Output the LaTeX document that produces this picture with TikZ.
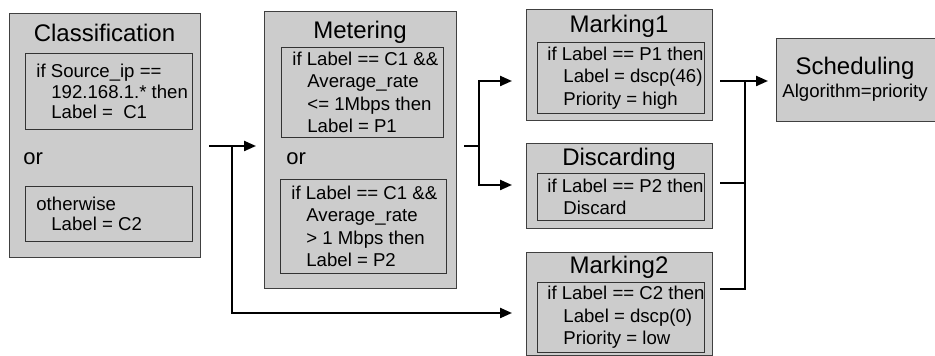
\documentclass[tikz,border=0pt]{standalone}
\usepackage{fontspec}
\setmainfont{Liberation Sans}
\usetikzlibrary{arrows.meta}
\definecolor{boxgray}{RGB}{204,204,204}
\newcommand{\bodyfont}{\fontsize{9.3}{11.25}\selectfont}
\newcommand{\titlefont}{\fontsize{12}{14}\selectfont}
\newcommand{\ind}{\hspace*{7.5pt}}

\begin{document}
\begin{tikzpicture}[x=0.5pt, y=-0.5pt,
    stage/.style={draw=black!75, fill=boxgray, line width=0.5pt, anchor=north west, inner sep=0pt},
    rulebox/.style={draw=black!80, fill=boxgray, line width=0.5pt, anchor=north west, inner sep=0pt},
    ruletext/.style={anchor=west, align=left, inner sep=0pt, font=\bodyfont},
    stagetitle/.style={inner sep=0pt, font=\titlefont},
    link/.style={line width=1.1pt},
    arrowlink/.style={link, -{Triangle[length=6pt,width=5pt]}}]
    \useasboundingbox (0,0) rectangle (935,356);

    % 绘制分类框 Classification
    \node[stage, minimum width=95.5pt, minimum height=122pt] (cls) at (9,13) {};
    \node[stagetitle] (clsT) at (104.5,33) {Classification};
    \node[rulebox, minimum width=83.5pt, minimum height=38pt] (cls1) at (25,53) {};
    \node[ruletext, font=\fontsize{9.3}{10.25}\selectfont] (cls1T) at ([xshift=5.5pt]cls1.west)
        {if Source\_ip ==\\\ind 192.168.1.* then\\\ind Label = \ C1};
    \node[ruletext, font=\fontsize{11}{13}\selectfont] (clsOr) at (23,159) {or};
    \node[rulebox, minimum width=83.5pt, minimum height=27.5pt] (cls2) at (25,186) {};
    \node[ruletext, font=\fontsize{9.3}{10.25}\selectfont] (cls2T) at ([xshift=5.5pt]cls2.west)
        {otherwise\\\ind Label = C2};

    % 绘制计量框 Metering
    \node[stage, minimum width=96pt, minimum height=138.5pt] (met) at (264,11) {};
    \node[stagetitle] (metT) at (360,32) {Metering};
    \node[rulebox, minimum width=81pt, minimum height=45pt] (met1) at (281,47) {};
    \node[ruletext] (met1T) at ([xshift=5.5pt]met1.west)
        {if Label == C1 \&\&\\\ind Average\_rate\\\ind <= 1Mbps then\\\ind Label = P1};
    \node[ruletext, font=\fontsize{11}{13}\selectfont] (metOr) at (286,159) {or};
    \node[rulebox, minimum width=83pt, minimum height=47pt] (met2) at (280,179) {};
    \node[ruletext] (met2T) at ([xshift=5.5pt]met2.west)
        {if Label == C1 \&\&\\\ind Average\_rate\\\ind > 1 Mbps then\\\ind Label = P2};

    % 绘制标记框 Marking1
    \node[stage, minimum width=93pt, minimum height=55.5pt] (mk1) at (526,9) {};
    \node[stagetitle] (mk1T) at (619,26) {Marking1};
    \node[rulebox, minimum width=83.5pt, minimum height=35.5pt] (mk1in) at (537,42) {};
    \node[ruletext] (mk1inT) at ([xshift=5pt]mk1in.west)
        {if Label == P1 then\\\hspace*{8pt}Label = dscp(46)\\\hspace*{8pt}Priority = high};

    % 绘制丢弃框 Discarding
    \node[stage, minimum width=93pt, minimum height=42.5pt] (dis) at (526,143) {};
    \node[stagetitle] (disT) at (619,159) {Discarding};
    \node[rulebox, minimum width=83.5pt, minimum height=23.5pt] (disin) at (537,173) {};
    \node[ruletext] (disinT) at ([xshift=5pt]disin.west)
        {if Label == P2 then\\\hspace*{8pt}Discard};

    % 绘制标记框 Marking2
    \node[stage, minimum width=93pt, minimum height=51.5pt] (mk2) at (526,252) {};
    \node[stagetitle] (mk2T) at (619,267) {Marking2};
    \node[rulebox, minimum width=83.5pt, minimum height=35pt] (mk2in) at (537,282) {};
    \node[ruletext] (mk2inT) at ([xshift=5pt]mk2in.west)
        {if Label == C2 then\\\hspace*{8pt}Label = dscp(0)\\\hspace*{8pt}Priority = low};

    % 绘制调度框 Scheduling
    \node[stage, minimum width=80pt, minimum height=41.5pt] (sch) at (776,38) {};
    \node[stagetitle] (schT) at (855,68) {Scheduling};
    \node[inner sep=0pt, font=\bodyfont] (schA) at (855,93) {Algorithm=priority};

    % 绘制连接点
    \coordinate (j1) at (232,146);
    \coordinate (j2) at (232,313);
    \coordinate (j3) at (479,146);
    \coordinate (t1) at (479,81);
    \coordinate (t2) at (479,185);
    \coordinate (k1) at (745,81);
    \coordinate (k2) at (745,183);
    \coordinate (k3) at (745,289);

    % 绘制连接线和箭头
    \draw[arrowlink, shorten <=4pt, shorten >=4pt] (cls.east |- j1) -- (met.west |- j1);
    \draw[arrowlink, shorten >=7pt] (j1) -- (j2) -- (mk2.west |- j2);
    \draw[link, shorten <=3.5pt] (met.east |- j3) -- (j3);
    \draw[arrowlink, shorten >=7pt] (j3) -- (t1) -- (mk1.west |- t1);
    \draw[arrowlink, shorten >=7pt] (j3) -- (t2) -- (dis.west |- t2);
    \draw[link, shorten <=3.5pt] (mk1.east |- k1) -- (k1);
    \draw[link, shorten <=3.5pt] (dis.east |- k2) -- (k2);
    \draw[link, shorten <=3.5pt] (mk2.east |- k3) -- (k3) -- (k1);
    \draw[arrowlink, shorten >=4pt] (k1) -- (sch.west |- k1);

\end{tikzpicture}
\end{document}
